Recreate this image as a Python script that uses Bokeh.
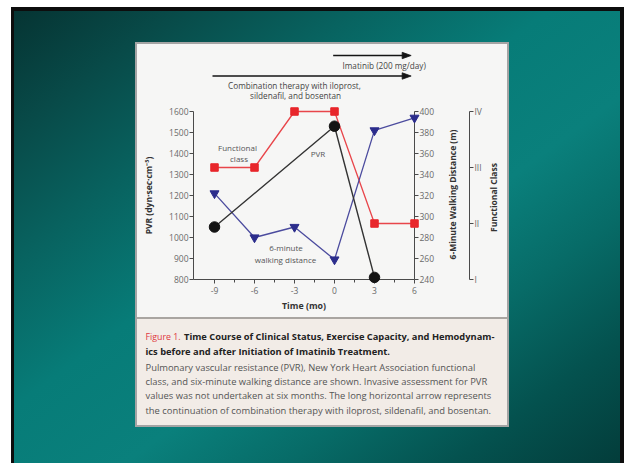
import math
from bokeh.plotting import figure
from bokeh.models import Range1d, LinearAxis, FixedTicker
from bokeh.core.properties import value
from bokeh.embed import file_html
from bokeh.resources import INLINE

# ---------------- data ----------------
months = [-9, -6, -3, 0, 3, 6]
functional_class = [3, 3, 4, 4, 2, 2]
walking_distance_m = [322, 280, 290, 259, 382, 394]
pvr_months = [-9, 0, 3]
pvr_values = [1050, 1530, 810]

time_ticks = [-9, -6, -3, 0, 3, 6]
time_tick_labels = ["-9", "-6", "-3", "0", "3", "6"]
time_minor_ticks = [-7.5, -4.5, -1.5, 1.5, 4.5]
pvr_ticks = [800, 900, 1000, 1100, 1200, 1300, 1400, 1500, 1600]
walk_ticks = [240, 260, 280, 300, 320, 340, 360, 380, 400]
class_ticks = [1, 2, 3, 4]
class_tick_labels = ["I", "II", "III", "IV"]

therapy_start = [-0.1, -9.15]      # months
therapy_end = [5.75, 5.75]
therapy_label_imatinib = "Imatinib (200 mg/day)"
therapy_label_combo = ["Combination therapy with iloprost,", "sildenafil, and bosentan"]

caption_fig = "Figure 1."
caption_bold = ["Time Course of Clinical Status, Exercise Capacity, and Hemodynam-",
                "ics before and after Initiation of Imatinib Treatment."]
caption_body = [
    "Pulmonary vascular resistance (PVR), New York Heart Association functional",
    "class, and six-minute walking distance are shown. Invasive assessment for PVR",
    "values was not undertaken at six months. The long horizontal arrow represents",
    "the continuation of combination therapy with iloprost, sildenafil, and bosentan.",
]

# ---------------- layout geometry (page pixels) ----------------
W, H = 626, 463
FL, FR, FT, FB = 193, 414, 111, 279
X0, X1 = -10.575, 6.0
Y0, Y1 = 800, 1600


def X(px):
    return X0 + (px - FL) * (X1 - X0) / (FR - FL)


def PX(x):
    return FL + (x - X0) * (FR - FL) / (X1 - X0)


def Y(py):
    return Y0 + (FB - py) * (Y1 - Y0) / (FB - FT)


FONT = value("Open Sans")

bg_layers = [
    "linear-gradient(#a9a5a1,#a9a5a1) 137px 317px / 370px 2px no-repeat",
    "linear-gradient(#f2ece7,#f2ece7) 137px 319px / 370px 106px no-repeat",
    "linear-gradient(#f6f6f5,#f6f6f5) 137px 44px / 370px 273px no-repeat",
    "linear-gradient(#a4a4a4,#a4a4a4) 135px 42px / 374px 385px no-repeat",
    "linear-gradient(#0d0d0d,#0d0d0d) 11px 7px / 3px 456px no-repeat",
    "linear-gradient(#0d0d0d,#0d0d0d) 11px 7px / 613px 4px no-repeat",
    "linear-gradient(#0d0d0d,#0d0d0d) 620px 7px / 4px 456px no-repeat",
    "linear-gradient(#ffffff,#ffffff) 0px 0px / 11px 463px no-repeat",
    "linear-gradient(#ffffff,#ffffff) 0px 0px / 626px 7px no-repeat",
    "linear-gradient(#ffffff,#ffffff) 624px 0px / 2px 463px no-repeat",
    "linear-gradient(to bottom right, #05302f 0%, #084a48 15%, #08625f 29%, "
    "#077c78 45%, #0a807c 60%, #076b67 73%, #04524f 86%, #033c3a 100%)",
]

p = figure(width=W, height=H, output_backend="svg", toolbar_location=None,
           x_range=Range1d(X0, X1), y_range=Range1d(Y0, Y1),
           min_border_left=FL, min_border_right=W - FR,
           min_border_top=FT, min_border_bottom=H - FB,
           border_fill_color=None, background_fill_color=None,
           outline_line_color=None,
           styles={"background": ", ".join(bg_layers)})
p.extra_y_ranges = {"walk": Range1d(240, 400), "fc": Range1d(1, 4)}
p.xgrid.visible = False
p.ygrid.visible = False

AX = "#4a4a4a"
TL = "#6a6a6a"
AL = "#333333"


def style_axis(ax, label_size="8.5px"):
    ax.axis_line_color = AX
    ax.major_tick_line_color = AX
    ax.minor_tick_line_color = AX
    ax.major_tick_in = 0
    ax.minor_tick_in = 0
    ax.major_tick_out = 4
    ax.major_label_text_font = "Open Sans"
    ax.major_label_text_font_size = "8.5px"
    ax.major_label_text_color = TL
    ax.axis_label_text_font = "Open Sans"
    ax.axis_label_text_font_style = "bold"
    ax.axis_label_text_font_size = label_size
    ax.axis_label_text_color = AL


xa = p.xaxis[0]
style_axis(xa, "8.8px")
xa.ticker = FixedTicker(ticks=time_ticks, minor_ticks=time_minor_ticks)
xa.major_label_overrides = {t: s for t, s in zip(time_ticks, time_tick_labels)}
xa.minor_tick_out = 3
xa.major_label_standoff = 3
xa.axis_label = "Time (mo)"
xa.axis_label_standoff = 3

ya = p.yaxis[0]
style_axis(ya)
ya.ticker = FixedTicker(ticks=pvr_ticks)
ya.minor_tick_out = 0
ya.major_label_standoff = 1
ya.axis_label = "PVR (dyn·sec·cm⁻⁵)"
ya.axis_label_standoff = 12

wa = LinearAxis(y_range_name="walk", ticker=FixedTicker(ticks=walk_ticks))
style_axis(wa)
wa.minor_tick_out = 0
wa.major_label_standoff = 1

spacer = LinearAxis(ticker=FixedTicker(ticks=[]), axis_label=" ",
                    axis_line_color=None, major_tick_out=0, minor_tick_out=0,
                    major_tick_in=0, minor_tick_in=0, major_label_standoff=0,
                    axis_label_standoff=20, axis_label_text_font_size="8px")

fa = LinearAxis(y_range_name="fc", ticker=FixedTicker(ticks=class_ticks),
                major_label_overrides={t: s for t, s in zip(class_ticks, class_tick_labels)})
style_axis(fa)
fa.minor_tick_out = 0
fa.major_label_standoff = 1

p.add_layout(wa, "right")
p.add_layout(spacer, "right")
p.add_layout(fa, "right")

# right-hand axis titles, reading bottom-to-top as in the reference
p.text(x=[X(452), X(493)], y=[Y(194), Y(197)],
       text=["6-Minute Walking Distance (m)", "Functional Class"],
       angle=math.pi / 2, text_font=FONT, text_font_size="8.5px",
       text_font_style="bold", text_color=AL, text_align="center",
       text_baseline="middle", level="overlay")

# ---------------- series ----------------
RED = "#e8262b"
BLUE = "#2c2d8c"
BLK = "#141414"

p.line(months, functional_class, y_range_name="fc", line_color="#e8454a",
       line_width=1.3, level="overlay")
p.scatter(months, functional_class, y_range_name="fc", marker="square", size=7.5,
          fill_color=RED, line_color=RED, level="overlay")

p.line(months, walking_distance_m, y_range_name="walk", line_color="#4b4b9e",
       line_width=1.3, level="overlay")
p.scatter(months, walking_distance_m, y_range_name="walk", marker="inverted_triangle",
          size=9, fill_color=BLUE, line_color=BLUE, level="overlay")

p.line(pvr_months, pvr_values, line_color="#333333", line_width=1.4, level="overlay")
p.scatter(pvr_months, pvr_values, marker="circle", size=10.5,
          fill_color=BLK, line_color=BLK, level="overlay")

# ---------------- therapy arrows ----------------
arrow_py = [55, 75.5]
arrow_y = [Y(v) for v in arrow_py]
p.segment(x0=therapy_start, y0=arrow_y, x1=[X(PX(e) - 4) for e in therapy_end], y1=arrow_y,
          line_color="#151515", line_width=1.6, level="overlay")
for e, v in zip(therapy_end, arrow_py):
    # arrow heads as single (unculled) patches
    p.patch([X(PX(e) - 9), X(PX(e)), X(PX(e) - 9)], [Y(v - 3.2), Y(v), Y(v + 3.2)],
            fill_color="#151515", line_color="#151515", line_width=0.8, level="overlay")

p.text(x=[X(342)], y=[Y(65)], text=[therapy_label_imatinib], text_font=FONT,
       text_font_size="8.2px", text_color="#444444", text_align="left",
       text_baseline="middle", level="overlay")
p.text(x=[X(294), X(295)], y=[Y(85), Y(95)], text=therapy_label_combo, text_font=FONT,
       text_font_size="8.2px", text_color="#444444", text_align="center",
       text_baseline="middle", level="overlay")

# ---------------- in-chart series labels ----------------
p.text(x=[X(237), X(238.5)], y=[Y(147), Y(158)], text=["Functional", "class"],
       text_font=FONT, text_font_size="8px", text_color="#555555",
       text_align="center", text_baseline="middle", level="overlay")
p.text(x=[X(317.5)], y=[Y(152.7)], text=["PVR"],
       text_font=FONT, text_font_size="8px", text_color="#555555",
       text_align="center", text_baseline="middle", level="overlay")
p.text(x=[X(285.5), X(285)], y=[Y(246.7), Y(258.7)], text=["6-minute", "walking distance"],
       text_font=FONT, text_font_size="8px", text_color="#555555",
       text_align="center", text_baseline="middle", level="overlay")

# ---------------- caption ----------------
p.text(x=[X(145)], y=[Y(336)], text=[caption_fig], text_font=FONT,
       text_font_size="8.8px", text_color="#e0383d", text_align="left",
       text_baseline="middle", level="overlay")
p.text(x=[X(183.5), X(145)], y=[Y(336), Y(351)], text=caption_bold, text_font=FONT,
       text_font_size="9.3px", text_font_style="bold", text_color="#222222",
       text_align="left", text_baseline="middle", level="overlay")
p.text(x=[X(145)] * 4, y=[Y(367), Y(381), Y(395), Y(409.5)], text=caption_body,
       text_font=FONT, text_font_size="9.4px", text_color="#555555",
       text_align="left", text_baseline="middle", level="overlay")

open("out.html", "w").write(file_html(p, INLINE))
